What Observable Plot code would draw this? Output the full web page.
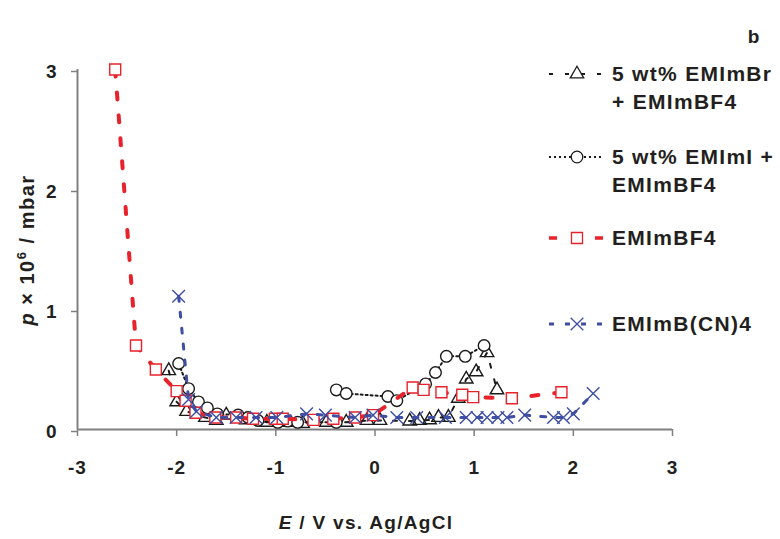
<!DOCTYPE html>
<html><head><meta charset="utf-8">
<script src="https://cdn.jsdelivr.net/npm/d3@7"></script>
<script src="https://cdn.jsdelivr.net/npm/@observablehq/plot@0.6"></script>
<style>
body{margin:0;background:#fff;}
#wrap{position:relative;width:780px;height:539px;}
</style></head><body><div id="wrap"></div>
<script>
// ---- data (E in V vs Ag/AgCl, p × 10^6 mbar) ----
const xTicks = [-3, -2, -1, 0, 1, 2, 3];
const yTicks = [0, 1, 2, 3];

// 5 wt% EMImBr + EMImBF4 (triangles)
const brE = [-2.08, -2.00, -1.90, -1.71, -1.60, -1.50, -1.30, -1.09, -0.90, -0.73, -0.49, -0.29, -0.08, 0.05, 0.35, 0.45, 0.55, 0.64, 0.74, 0.84, 0.92, 1.02, 1.13, 1.23];
const brP = [0.49, 0.23, 0.15, 0.10, 0.075, 0.12, 0.08, 0.06, 0.06, 0.05, 0.06, 0.06, 0.075, 0.075, 0.07, 0.075, 0.08, 0.10, 0.10, 0.26, 0.42, 0.48, 0.64, 0.33];

// 5 wt% EMImI + EMImBF4 (circles) – cathodic branch and anodic branch
const iLowE = [-1.98, -1.88, -1.78, -1.69, -1.59, -1.38, -1.28, -1.18, -0.98, -0.88, -0.78, -0.39];
const iLowP = [0.55, 0.34, 0.23, 0.18, 0.13, 0.12, 0.10, 0.075, 0.06, 0.07, 0.06, 0.06];
const iUpE = [-0.39, -0.29, 0.13, 0.22, 0.51, 0.61, 0.72, 0.91, 1.10];
const iUpP = [0.33, 0.30, 0.275, 0.24, 0.38, 0.475, 0.61, 0.61, 0.70];

// EMImBF4 (squares)
const bfE = [-2.62, -2.41, -2.21, -2.00, -1.91, -1.81, -1.61, -1.40, -1.23, -1.01, -0.93, -0.62, -0.42, -0.20, -0.02, 0.38, 0.49, 0.67, 0.88, 0.99, 1.38, 1.88];
const bfP = [3.00, 0.70, 0.50, 0.32, 0.24, 0.14, 0.10, 0.10, 0.09, 0.09, 0.09, 0.08, 0.09, 0.10, 0.12, 0.35, 0.33, 0.31, 0.29, 0.27, 0.26, 0.31];

// EMImB(CN)4 (crosses)
const cnE = [-1.98, -1.88, -1.80, -1.60, -1.40, -1.20, -0.99, -0.69, -0.50, -0.20, -0.02, 0.22, 0.42, 0.71, 0.92, 1.03, 1.13, 1.24, 1.33, 1.51, 1.80, 1.90, 2.00, 2.20];
const cnP = [1.11, 0.25, 0.15, 0.10, 0.10, 0.10, 0.10, 0.13, 0.12, 0.10, 0.12, 0.10, 0.10, 0.10, 0.10, 0.10, 0.10, 0.10, 0.10, 0.12, 0.10, 0.10, 0.13, 0.30];

const legendLabels = [["5 wt% EMImBr", "+ EMImBF4"], ["5 wt% EMImI +", "EMImBF4"], ["EMImBF4"], ["EMImB(CN)4"]];
const panelLabel = "b";

// ---- build tables ----
const rows = (xs, ys, seg) => xs.map((x, i) => ({x, y: ys[i], seg}));
const brData = rows(brE, brP, 0);
const iData = rows(iLowE, iLowP, 0).concat(rows(iUpE, iUpP, 1));
const bfData = rows(bfE, bfP, 0);
const cnData = rows(cnE, cnP, 0);

const RED = "#e8222b", BLUE = "#3d4ea3", BLACK = "#1a1a1a", GREY = "#808080", TXT = "#231f20";
const FONT = "'Liberation Sans', Arial, sans-serif";

const styles = [
  {stroke: BLACK, width: 2, dash: "4,12", symbol: "triangle", r: 5, fill: "none", mstroke: BLACK},
  {stroke: BLACK, width: 2, dash: "2,3", symbol: "circle", r: 5.8, fill: "white", mstroke: BLACK},
  {stroke: RED, width: 4, dash: "7,16", symbol: "square", r: 6.2, fill: "white", mstroke: RED},
  {stroke: BLUE, width: 3, dash: "5,11", symbol: "times", r: 5.8, fill: "none", mstroke: BLUE}
];
const datasets = [brData, iData, bfData, cnData];

const marks = [
  Plot.ruleY([0], {stroke: GREY, strokeWidth: 2}),
  Plot.ruleX([-3], {stroke: GREY, strokeWidth: 2}),
  Plot.axisX({ticks: xTicks, tickSize: 7, tickPadding: 24, stroke: GREY, fill: TXT, strokeWidth: 1.5, tickFormat: d => String(d), label: null, fontSize: 19}),
  Plot.axisY({ticks: yTicks, tickSize: 6, tickPadding: 14, stroke: GREY, fill: TXT, strokeWidth: 1.5, tickFormat: d => String(d), label: null, fontSize: 19, dy: 2})
];
datasets.forEach((d, k) => {
  const s = styles[k];
  marks.push(Plot.line(d, {x: "x", y: "y", z: "seg", stroke: s.stroke, strokeWidth: s.width, strokeDasharray: s.dash}));
  marks.push(Plot.dot(d, {x: "x", y: "y", symbol: () => s.symbol, r: s.r, stroke: s.mstroke, fill: s.fill, strokeWidth: 1.4}));
});

const chart = Plot.plot({
  width: 780, height: 539,
  marginLeft: 77, marginRight: 108, marginTop: 69, marginBottom: 110,
  x: {domain: [-3, 3]}, y: {domain: [0, 3]},
  symbol: {type: "identity"},
  style: {fontFamily: FONT, fontSize: "19px", fontWeight: "bold", color: TXT, background: "white", letterSpacing: "1px"},
  marks
});
document.getElementById("wrap").appendChild(chart);

// ---- titles and legend ----
const svg = d3.select(chart);
// y axis title
const yt = svg.append("text").attr("transform", "translate(34,250) rotate(-90)").attr("text-anchor", "middle")
  .attr("font-size", 20).attr("font-weight", "bold").attr("fill", TXT).style("letter-spacing", "1.5px");
yt.append("tspan").attr("font-style", "italic").text("p");
yt.append("tspan").text(" × 10");
yt.append("tspan").attr("dy", -8).attr("font-size", 13).text("6");
yt.append("tspan").attr("dy", 8).text(" / mbar");
// x axis title
const xt = svg.append("text").attr("x", 366).attr("y", 529).attr("text-anchor", "middle")
  .attr("font-size", 19).attr("font-weight", "bold").attr("fill", TXT).style("letter-spacing", "1.3px");
xt.append("tspan").attr("font-style", "italic").text("E");
xt.append("tspan").text(" / V vs. Ag/AgCl");
// panel label
svg.append("text").attr("x", 754).attr("y", 43).attr("text-anchor", "middle").attr("font-size", 19)
  .attr("font-weight", "bold").attr("fill", TXT).text(panelLabel);

// legend
const legY = [74, 157, 238, 324];
const symGen = {triangle: d3.symbolTriangle, circle: d3.symbolCircle, square: d3.symbolSquare, times: d3.symbolTimes};
const lg = svg.append("g").attr("text-anchor", "start");
legendLabels.forEach((lab, k) => {
  const s = styles[k], y = legY[k];
  lg.append("line").attr("x1", 549).attr("x2", 603).attr("y1", y).attr("y2", y)
    .attr("stroke", s.stroke).attr("stroke-width", s.width === 4 ? 3.5 : s.width).attr("stroke-dasharray", k === 2 ? "8,15" : s.dash);
  lg.append("path").attr("transform", `translate(577,${y})`)
    .attr("d", d3.symbol(symGen[s.symbol], Math.PI * s.r * s.r)())
    .attr("fill", s.fill === "none" ? "none" : "white").attr("stroke", s.mstroke).attr("stroke-width", 1.3);
  lab.forEach((t, j) => {
    lg.append("text").attr("x", 612).attr("y", y + 7 + j * 27.5).attr("text-anchor", "start").attr("font-size", 21).attr("font-weight", "bold")
      .attr("fill", TXT).style("letter-spacing", "1.3px").text(t);
  });
});
</script>
</body></html>
